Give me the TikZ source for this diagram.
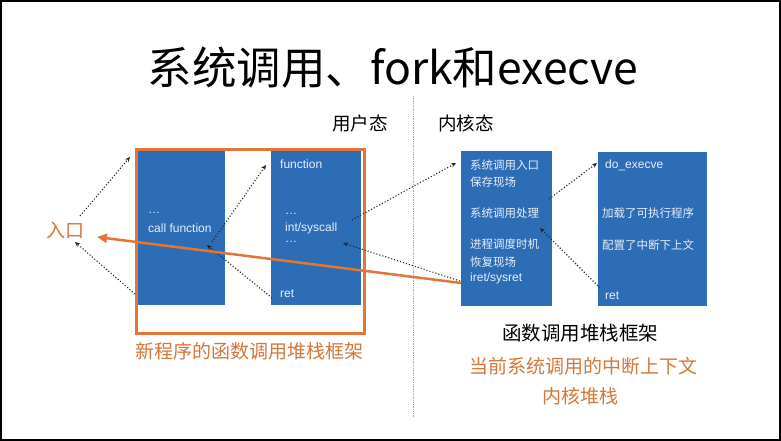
\documentclass[tikz,border=0pt]{standalone}
\usepackage{fontspec}
\setmainfont{Noto Sans CJK SC}
\newfontfamily\latinf{Liberation Sans}
\usetikzlibrary{arrows.meta}
\definecolor{boxblue}{HTML}{2D6DB6}
\definecolor{frameorange}{HTML}{E57535}
\definecolor{textorange}{HTML}{D4773A}
\definecolor{boxtext}{HTML}{E6EEF8}
\tikzset{
  bluebox/.style={draw=none, fill=boxblue, anchor=north west, inner sep=0pt},
  intext/.style={text=boxtext, font=\fontsize{11.5}{13}\selectfont, anchor=west, inner sep=0pt},
  inlatin/.style={text=boxtext, font=\latinf\fontsize{12}{13}\selectfont, anchor=west, inner sep=0pt},
  dotarrow/.style={dotted, line width=1.1pt, draw=black!85, -{Stealth[length=5pt,width=4.5pt]}},
  orangelabel/.style={text=textorange, font=\fontsize{19}{22}\selectfont, inner sep=0pt},
}
\begin{document}
\begin{tikzpicture}[x=1pt,y=-1pt]
\useasboundingbox (0,0) rectangle (781,441);
\fill[white] (0,0) rectangle (781,441);
\draw[black, line width=2pt] (1,1) rectangle (780,440);

% title
\node[font=\fontsize{44.5}{50}\selectfont, inner sep=0pt] (title) at (393,68) {系统调用、fork和execve};
\node[font=\fontsize{18.5}{20}\selectfont, inner sep=0pt] (user) at (360,123) {用户态};
\node[font=\fontsize{18.5}{20}\selectfont, inner sep=0pt] (kernel) at (466,123) {内核态};
\coordinate (vtop) at (413,96);
\coordinate (vbot) at (413,418);
\draw[densely dotted, gray!70, line width=0.8pt] (vtop) -- (vbot);

% boxes
\node[bluebox, minimum width=87pt, minimum height=155pt] (b1) at (138,150) {};
\node[bluebox, minimum width=90pt, minimum height=155pt] (b2) at (271,150) {};
\node[bluebox, minimum width=91pt, minimum height=155pt] (b3) at (461,151) {};
\node[bluebox, minimum width=109pt, minimum height=154pt] (b4) at (598,152) {};

% orange frame
\node[draw=frameorange, line width=2.5pt, anchor=north west, minimum width=228pt, minimum height=184pt, inner sep=0pt] (frame) at (135,148) {};

% box 1 text
\node[inlatin] (t1a) at (148,213) {\dots};
\node[inlatin] (t1b) at (148,228) {call function};
% box 2 text
\node[inlatin] (t2a) at (280,164) {function};
\node[inlatin] (t2b) at (285,214) {\dots};
\node[inlatin] (t2c) at (285,228) {int/syscall};
\node[inlatin] (t2d) at (285,242) {\dots};
\node[inlatin] (t2e) at (280,294) {ret};
% box 3 text
\node[intext] (t3a) at (470,165) {系统调用入口};
\node[intext] (t3b) at (470,182) {保存现场};
\node[intext] (t3c) at (470,213) {系统调用处理};
\node[intext] (t3d) at (470,244) {进程调度时机};
\node[intext] (t3e) at (470,262) {恢复现场};
\node[inlatin] (t3f) at (470,278) {iret/sysret};
% box 4 text
\node[inlatin] (t4a) at (605,165) {do\_execve};
\node[intext] (t4b) at (602,213) {加载了可执行程序};
\node[intext] (t4c) at (602,245) {配置了中断下上文};
\node[inlatin] (t4d) at (605,296) {ret};

% entry
\node[text=textorange, font=\fontsize{19}{22}\selectfont, inner sep=0pt] (entry) at (65,230) {入口};

% labels
\node[font=\fontsize{19.5}{22}\selectfont, inner sep=0pt] (lbl1) at (580,333) {函数调用堆栈框架};
\node[orangelabel] (lbl2) at (249,351) {新程序的函数调用堆栈框架};
\node[orangelabel] (lbl3) at (583,366) {当前系统调用的中断上下文};
\node[orangelabel] (lbl4) at (580,396) {内核堆栈};

% coordinates for connectors
\coordinate (e1) at (80,216);
\coordinate (e2) at (130,157);
\coordinate (e3) at (135,294);
\coordinate (e4) at (75,242);
\coordinate (c1) at (212,242);
\coordinate (c2) at (266,165);
\coordinate (c3) at (272,298);
\coordinate (c4) at (207,245);
\coordinate (s1) at (352,220);
\coordinate (s2) at (456,163);
\coordinate (s3) at (460,281);
\coordinate (s4) at (343,243);
\coordinate (k1) at (549,199);
\coordinate (k2) at (597,163);
\coordinate (k3) at (600,288);
\coordinate (k4) at (540,228);
\coordinate (o1) at (461,283);
\coordinate (o2) at (97,237);

\draw[dotarrow] (e1) -- (e2);
\draw[dotarrow] (e3) -- (e4);
\draw[dotarrow] (c1) -- (c2);
\draw[dotarrow] (c3) -- (c4);
\draw[dotarrow] (s1) -- (s2);
\draw[dotarrow] (s3) -- (s4);
\draw[dotarrow] (k1) -- (k2);
\draw[dotarrow] (k3) -- (k4);

\draw[frameorange, line width=2.5pt, -{Triangle[length=10pt,width=9pt]}] (o1) -- (o2);
\end{tikzpicture}
\end{document}
